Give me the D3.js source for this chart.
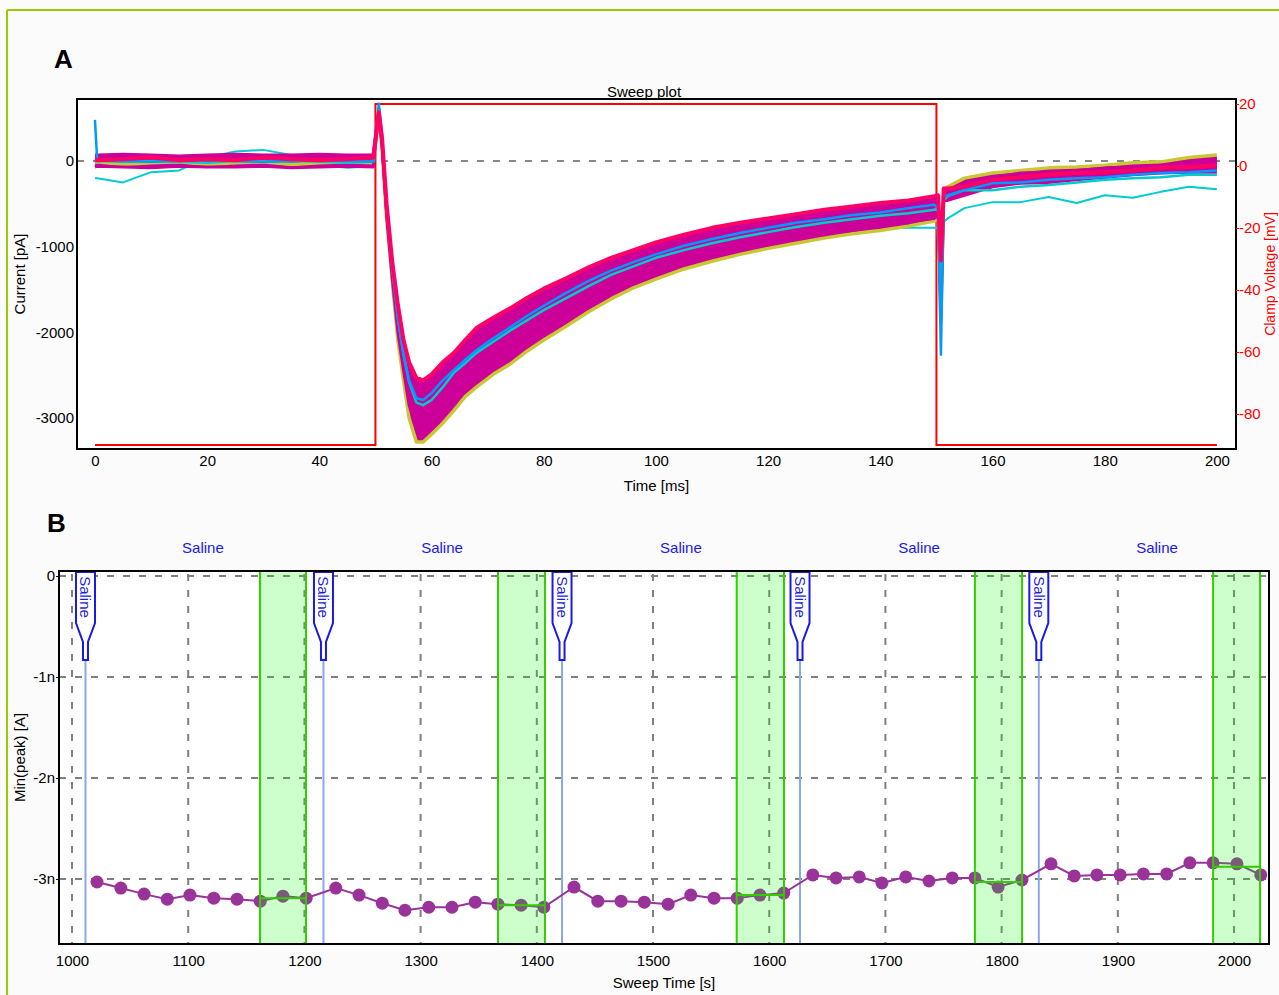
<!DOCTYPE html>
<html>
<head>
<meta charset="utf-8">
<script src="https://cdn.jsdelivr.net/npm/d3@7"></script>
<style>
body { margin: 0; background: #fbfbfb; }
svg { display: block; font-family: "Liberation Sans", Arial, sans-serif; }
</style>
</head>
<body>
<div id="figure"></div>
<script>
// ---- A: sweep plot data (time in ms, current in pA) ----
var sweepTimeMs = [0, 0.4, 5, 10, 15, 20, 25, 30, 35, 40, 45, 49.6,
  50.6, 51.2, 52, 53, 54, 55, 56, 57.3, 58.5, 60,
  62, 64, 66, 68, 71, 74, 77, 80, 84, 88,
  92, 96, 100, 105, 110, 115, 120, 125, 130, 135,
  140, 145, 149.6, 150.3, 150.8, 151.3, 152, 155, 160, 165,
  170, 175, 180, 185, 190, 195, 200];

var currentPink = [20, 10, 20, 40, 10, 20, 10, 40, 20, 10, 20, 40,
  570, 250, -510, -1180, -1680, -2090, -2350, -2530, -2560, -2490,
  -2350, -2240, -2090, -1950, -1830, -1720, -1600, -1490, -1370, -1240,
  -1130, -1040, -950, -860, -780, -720, -670, -620, -570, -530,
  -490, -460, -410, -400, -1160, -320, -320, -300, -220, -190,
  -160, -140, -130, -110, -80, -70, -50];
var currentMagentaHigh = [70, 70, 80, 70, 60, 70, 80, 70, 70, 80, 70, 70,
  600, 190, -610, -1300, -1910, -2350, -2700, -2970, -2970, -2870,
  -2710, -2560, -2400, -2290, -2170, -2050, -1890, -1770, -1620, -1470,
  -1340, -1240, -1140, -1050, -970, -900, -840, -780, -740, -690,
  -640, -600, -550, -510, -1620, -360, -340, -250, -190, -140,
  -130, -110, -80, -70, -50, -20, 10];
var currentMagentaLow = [-70, -60, -70, -80, -60, -70, -70, -60, -80, -70, -60, -70,
  570, 150, -640, -1370, -2000, -2440, -2850, -3140, -3140, -3090,
  -2940, -2790, -2670, -2560, -2400, -2290, -2120, -2010, -1830, -1670,
  -1530, -1410, -1310, -1200, -1110, -1030, -960, -900, -850, -810,
  -760, -710, -670, -630, -1800, -460, -460, -400, -300, -260,
  -250, -220, -190, -160, -140, -130, -130];
var currentYellow = [-20, -10, -40, -20, -10, -40, -20, -10, -40, -20, -10, -20,
  540, 130, -670, -1410, -2090, -2560, -3000, -3280, -3280, -3190,
  -3060, -2910, -2750, -2640, -2490, -2370, -2220, -2090, -1930, -1760,
  -1610, -1480, -1380, -1260, -1170, -1090, -1020, -960, -900, -850,
  -810, -760, -700, -670, -1860, -340, -300, -200, -140, -110,
  -80, -70, -50, -20, -10, 40, 70];
var currentCyan = [-10, 0, -10, 0, -10, -20, 0, -10, 0, -10, -20, -10,
  620, 250, -570, -1250, -1830, -2260, -2580, -2820, -2850, -2790,
  -2640, -2470, -2360, -2240, -2110, -1980, -1860, -1740, -1600, -1460,
  -1330, -1230, -1130, -1040, -960, -890, -830, -770, -720, -680,
  -640, -610, -570, -550, -1620, -460, -410, -340, -340, -300,
  -280, -250, -220, -200, -190, -160, -160];
var currentBlue = [480, 10, 0, -10, 0, 10, 0, -10, 0, 10, 0, -10,
  670, 300, -550, -1250, -1830, -2260, -2560, -2770, -2790, -2710,
  -2560, -2440, -2320, -2210, -2070, -1940, -1810, -1690, -1540, -1400,
  -1280, -1180, -1090, -990, -910, -840, -780, -720, -680, -630,
  -600, -550, -510, -550, -2260, -430, -400, -340, -260, -250,
  -220, -200, -190, -160, -140, -130, -110];
var currentCyanOutlier = [-200, -200, -250, -130, -110, 40, 110, 130, 70, -50, -80, -60,
  600, 190, -600, -1270, -1860, -2300, -2610, -2850, -2880, -2820,
  -2700, -2560, -2440, -2320, -2210, -2090, -1970, -1860, -1720, -1580,
  -1450, -1340, -1250, -1160, -1070, -1000, -950, -900, -850, -820,
  -790, -780, -780, -780, -1620, -710, -670, -550, -480, -480,
  -420, -490, -400, -430, -360, -300, -330];

// command voltage (mV)
var clampTimeMs = [0, 50, 50, 150, 150, 200];
var clampMv = [-90, -90, 20, 20, -90, -90];

var timeTicksMs = [0, 20, 40, 60, 80, 100, 120, 140, 160, 180, 200];
var currentTicksPa = [0, -1000, -2000, -3000];
var voltageTicksMv = [20, 0, -20, -40, -60, -80];

// ---- B: time course data (time in s, peak in nA) ----
var sweepTimeS = [1021.5, 1042, 1062, 1082, 1101.5, 1122, 1142, 1162, 1181.5, 1201.5,
  1227, 1247, 1267, 1286.5, 1307, 1327, 1347, 1366.5, 1386.5, 1406,
  1432, 1452.5, 1472.5, 1492.5, 1513, 1532.5, 1552.5, 1572.5, 1592, 1612.5,
  1637.5, 1657.5, 1677.5, 1697, 1717.5, 1737.5, 1757.5, 1777, 1797, 1817.5,
  1842.5, 1862.5, 1882, 1902, 1922, 1942, 1962, 1982, 2002.5, 2023];
var minPeakNA = [-3.03, -3.09, -3.15, -3.20, -3.16, -3.19, -3.20, -3.22, -3.17, -3.19,
  -3.09, -3.16, -3.24, -3.31, -3.28, -3.28, -3.23, -3.25, -3.26, -3.28,
  -3.08, -3.22, -3.22, -3.23, -3.25, -3.16, -3.19, -3.19, -3.16, -3.14,
  -2.96, -2.99, -2.98, -3.04, -2.98, -3.02, -2.99, -2.99, -3.08, -3.01,
  -2.85, -2.97, -2.96, -2.96, -2.95, -2.95, -2.84, -2.84, -2.85, -2.96];

var salineMarkS = [1011.6, 1216.4, 1421.7, 1626.5, 1832.0];
var salineLabelS = [1112.7, 1318.4, 1524.0, 1729.0, 1933.7];
var salineName = "Saline";

var windowStartS = [1161.8, 1366.6, 1572.0, 1777.0, 1982.0];
var windowEndS = [1201.4, 1407.0, 1612.7, 1817.6, 2022.4];
var windowMeanNA = [-3.19, -3.26, -3.16, -3.03, -2.88];

var sweepTicksS = [1000, 1100, 1200, 1300, 1400, 1500, 1600, 1700, 1800, 1900, 2000];
var peakTicksNA = [0, -1, -2, -3];

// ---------------------------------------------------------
var width = 1279, height = 995;
var svg = d3.select("#figure")
            .append("svg")
            .attr("width", width)
            .attr("height", height);

// green frame
svg.append("line").attr("x1", 7).attr("y1", 10).attr("x2", width).attr("y2", 10)
   .attr("stroke", "#99cc00").attr("stroke-width", 2);
svg.append("line").attr("x1", 7).attr("y1", 10).attr("x2", 7).attr("y2", height)
   .attr("stroke", "#99cc00").attr("stroke-width", 2);

function styleAxis(g, color) {
  g.attr("font-size", 15).attr("font-family", null);
  g.select(".domain").remove();
  g.selectAll("text").attr("fill", color);
  g.selectAll("line").attr("stroke", color);
}

function DrawSweepPlot() {
  var box = {left: 77, right: 1236, top: 99, bottom: 449};
  var xScale = d3.scaleLinear().domain([-3.2, 203.4]).range([box.left, box.right]);
  var yScale = d3.scaleLinear().domain([-3362, 724]).range([box.bottom, box.top]);
  var vScale = d3.scaleLinear().domain([-91.3, 21.6]).range([box.bottom, box.top]);

  var g = svg.append("g").attr("class", "panel-a");

  g.append("text").attr("x", 54).attr("y", 68)
   .attr("font-size", 26).attr("font-weight", "bold").text("A");

  g.append("rect")
   .attr("x", box.left).attr("y", box.top)
   .attr("width", box.right - box.left).attr("height", box.bottom - box.top)
   .attr("fill", "#ffffff");

  // zero line
  g.append("line")
   .attr("x1", box.left).attr("x2", box.right)
   .attr("y1", yScale(0)).attr("y2", yScale(0))
   .attr("stroke", "#888").attr("stroke-width", 2)
   .attr("stroke-dasharray", "7,9");

  // command voltage
  var vLine = d3.line()
    .x(function (d, i) { return xScale(clampTimeMs[i]); })
    .y(function (d) { return vScale(d); });
  g.append("path").datum(clampMv)
   .attr("d", vLine)
   .attr("fill", "none").attr("stroke", "#ff0000").attr("stroke-width", 2);

  var line = d3.line()
    .x(function (d, i) { return xScale(sweepTimeMs[i]); })
    .y(function (d) { return yScale(d); });

  function trace(values, color, w) {
    g.append("path").datum(values)
     .attr("d", line)
     .attr("fill", "none")
     .attr("stroke", color)
     .attr("stroke-width", w)
     .attr("stroke-linejoin", "round");
  }
  function band(top, bottom, color) {
    var area = d3.area()
      .x(function (d, i) { return xScale(sweepTimeMs[i]); })
      .y0(function (d, i) { return yScale(bottom[i]); })
      .y1(function (d) { return yScale(d); });
    g.append("path").datum(top)
     .attr("d", area)
     .attr("fill", color);
  }

  trace(currentCyanOutlier, "#00cccc", 2);

  // envelope of all sweeps, mostly magenta
  band(currentPink, currentYellow, "#cc0099");
  band(currentMagentaHigh, currentMagentaLow, "#cc0099");
  trace(currentYellow, "#c8c832", 3.5);
  trace(currentMagentaLow, "#cc0099", 3);
  trace(currentMagentaHigh, "#cc0099", 3);

  trace(currentCyan, "#00cccc", 2.5);
  trace(currentBlue, "#0099ff", 2.5);
  trace(currentPink, "#ff0066", 4);

  g.append("rect")
   .attr("x", box.left).attr("y", box.top)
   .attr("width", box.right - box.left).attr("height", box.bottom - box.top)
   .attr("fill", "none").attr("stroke", "#000").attr("stroke-width", 2);

  // axes
  g.append("g")
   .attr("transform", "translate(" + box.left + ",0)")
   .call(d3.axisLeft(yScale).tickValues(currentTicksPa).tickSize(0).tickPadding(3)
           .tickFormat(function (d) { return String(d); }))
   .call(styleAxis, "#000");
  g.append("g")
   .attr("transform", "translate(0," + box.bottom + ")")
   .call(d3.axisBottom(xScale).tickValues(timeTicksMs).tickSize(0).tickPadding(6)
           .tickFormat(function (d) { return String(d); }))
   .call(styleAxis, "#000");
  g.append("g")
   .attr("transform", "translate(" + box.right + ",0)")
   .call(d3.axisRight(vScale).tickValues(voltageTicksMv).tickSize(3).tickPadding(0)
           .tickFormat(function (d) { return String(d); }))
   .call(styleAxis, "#ff0000");

  // labels
  g.append("text").attr("x", 644).attr("y", 97)
   .attr("text-anchor", "middle").attr("font-size", 15).text("Sweep plot");
  g.append("text").attr("x", (box.left + box.right) / 2).attr("y", 491)
   .attr("text-anchor", "middle").attr("font-size", 15).text("Time [ms]");
  g.append("text")
   .attr("transform", "translate(25," + (box.top + box.bottom) / 2 + ") rotate(-90)")
   .attr("text-anchor", "middle").attr("font-size", 15).text("Current [pA]");
  g.append("text")
   .attr("transform", "translate(1275," + (box.top + box.bottom) / 2 + ") rotate(-90)")
   .attr("text-anchor", "middle").attr("font-size", 14).attr("fill", "#ff0000")
   .text("Clamp Voltage [mV]");
}

function DrawTimeCourse() {
  var box = {left: 59, right: 1269, top: 571, bottom: 944};
  var xScale = d3.scaleLinear().domain([988.8, 2030.1]).range([box.left, box.right]);
  var yScale = d3.scaleLinear().domain([-3.644, 0.0495]).range([box.bottom, box.top]);

  var g = svg.append("g").attr("class", "panel-b");

  g.append("text").attr("x", 47).attr("y", 532)
   .attr("font-size", 26).attr("font-weight", "bold").text("B");

  g.append("rect")
   .attr("x", box.left).attr("y", box.top)
   .attr("width", box.right - box.left).attr("height", box.bottom - box.top)
   .attr("fill", "#ffffff");

  // grid
  g.selectAll("line.hgrid").data(peakTicksNA).enter().append("line")
   .attr("class", "hgrid")
   .attr("x1", box.left).attr("x2", box.right)
   .attr("y1", function (d) { return yScale(d); })
   .attr("y2", function (d) { return yScale(d); })
   .attr("stroke", "#808080").attr("stroke-width", 2).attr("stroke-dasharray", "7,9");
  g.selectAll("line.vgrid").data(sweepTicksS).enter().append("line")
   .attr("class", "vgrid")
   .attr("y1", box.top).attr("y2", box.bottom)
   .attr("x1", function (d) { return xScale(d); })
   .attr("x2", function (d) { return xScale(d); })
   .attr("stroke", "#808080").attr("stroke-width", 2).attr("stroke-dasharray", "7,9")
   .attr("stroke-dashoffset", -3);

  // marker stems
  g.selectAll("line.stem").data(salineMarkS).enter().append("line")
   .attr("class", "stem")
   .attr("x1", function (d) { return xScale(d); })
   .attr("x2", function (d) { return xScale(d); })
   .attr("y1", 655).attr("y2", box.bottom)
   .attr("stroke", "#8aa8e8").attr("stroke-width", 2);

  // peak values
  var line = d3.line()
    .x(function (d, i) { return xScale(sweepTimeS[i]); })
    .y(function (d) { return yScale(d); });
  g.append("path").datum(minPeakNA)
   .attr("d", line)
   .attr("fill", "none").attr("stroke", "#993399").attr("stroke-width", 2);
  g.selectAll("circle").data(minPeakNA).enter().append("circle")
   .attr("cx", function (d, i) { return xScale(sweepTimeS[i]); })
   .attr("cy", function (d) { return yScale(d); })
   .attr("r", 6.5)
   .attr("fill", "#993399");

  // averaging windows
  g.selectAll("rect.win").data(windowStartS).enter().append("rect")
   .attr("class", "win")
   .attr("x", function (d) { return xScale(d); })
   .attr("y", box.top)
   .attr("width", function (d, i) { return xScale(windowEndS[i]) - xScale(d); })
   .attr("height", box.bottom - box.top)
   .attr("fill", "#00ff00").attr("fill-opacity", 0.2)
   .attr("stroke", "#33cc00").attr("stroke-width", 2);
  g.selectAll("line.mean").data(windowMeanNA).enter().append("line")
   .attr("class", "mean")
   .attr("x1", function (d, i) { return xScale(windowStartS[i]); })
   .attr("x2", function (d, i) { return xScale(windowEndS[i]); })
   .attr("y1", function (d) { return yScale(d); })
   .attr("y2", function (d) { return yScale(d); })
   .attr("stroke", "#33cc00").attr("stroke-width", 2);

  // flags
  var flags = g.selectAll("g.flag").data(salineMarkS).enter().append("g")
   .attr("class", "flag")
   .attr("transform", function (d) { return "translate(" + xScale(d) + ",0)"; });
  flags.append("path")
   .attr("d", "M-9.5,572 V623 L-2.5,642 V660 H2.5 V642 L9.5,623 V572 Z")
   .attr("fill", "#ffffff").attr("stroke", "#1a1ae6").attr("stroke-width", 2);
  flags.append("text")
   .attr("transform", "translate(0,597) rotate(90)")
   .attr("text-anchor", "middle").attr("dy", "0.35em")
   .attr("font-size", 15).attr("fill", "#1a1ae6")
   .text(salineName);

  g.append("rect")
   .attr("x", box.left).attr("y", box.top)
   .attr("width", box.right - box.left).attr("height", box.bottom - box.top)
   .attr("fill", "none").attr("stroke", "#000").attr("stroke-width", 2);

  // axes
  g.append("g")
   .attr("transform", "translate(" + box.left + ",0)")
   .call(d3.axisLeft(yScale).tickValues(peakTicksNA).tickSize(3).tickPadding(1)
           .tickFormat(function (d) { return d === 0 ? "0" : d + "n"; }))
   .call(styleAxis, "#000");
  g.append("g")
   .attr("transform", "translate(0," + box.bottom + ")")
   .call(d3.axisBottom(xScale).tickValues(sweepTicksS).tickSize(0).tickPadding(11)
           .tickFormat(function (d) { return String(d); }))
   .call(styleAxis, "#000");

  // saline labels on top
  g.selectAll("text.cond").data(salineLabelS).enter().append("text")
   .attr("class", "cond")
   .attr("x", function (d) { return xScale(d); })
   .attr("y", 553)
   .attr("text-anchor", "middle").attr("font-size", 15).attr("fill", "#1a1ae6")
   .text(salineName);

  g.append("text").attr("x", (box.left + box.right) / 2).attr("y", 988)
   .attr("text-anchor", "middle").attr("font-size", 15).text("Sweep Time [s]");
  g.append("text")
   .attr("transform", "translate(25," + (box.top + box.bottom) / 2 + ") rotate(-90)")
   .attr("text-anchor", "middle").attr("font-size", 15).text("Min(peak) [A]");
}

DrawSweepPlot();
DrawTimeCourse();
</script>
</body>
</html>
